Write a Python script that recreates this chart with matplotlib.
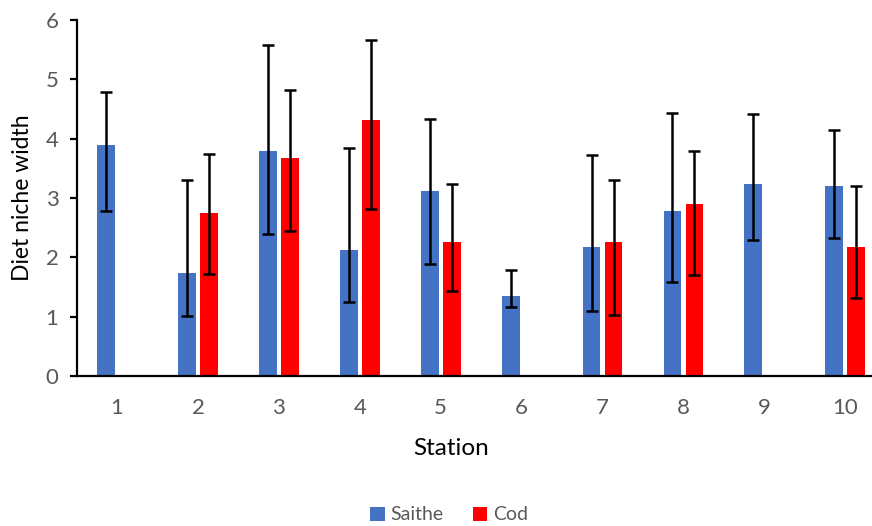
import numpy as np
import matplotlib.pyplot as plt

plt.rcParams['font.family'] = ['Lato', 'DejaVu Sans']

stations = ["1", "2", "3", "4", "5", "6", "7", "8", "9", "10"]

saithe = [3.89, 1.74, 3.80, 2.12, 3.12, 1.35, 2.18, 2.78, 3.24, 3.20]
saithe_low = [2.79, 1.01, 2.39, 1.25, 1.89, 1.16, 1.09, 1.58, 2.30, 2.33]
saithe_high = [4.78, 3.30, 5.58, 3.84, 4.33, 1.79, 3.72, 4.44, 4.42, 4.14]

cod = [np.nan, 2.74, 3.67, 4.31, 2.26, np.nan, 2.26, 2.90, np.nan, 2.18]
cod_low = [np.nan, 1.72, 2.45, 2.82, 1.43, np.nan, 1.03, 1.71, np.nan, 1.31]
cod_high = [np.nan, 3.75, 4.82, 5.67, 3.23, np.nan, 3.30, 3.80, np.nan, 3.20]

blue = "#4472C4"
red = "#FF0000"
grey = "#595959"

fig = plt.figure(figsize=(8.72, 5.26), dpi=100)
ax = fig.add_axes([0.0878, 0.285, 0.928, 0.677])

x = np.arange(1, len(stations) + 1)
w = 0.22
off = 0.136

s = np.array(saithe)
c = np.array(cod)
s_err = [s - np.array(saithe_low), np.array(saithe_high) - s]
c_err = [c - np.array(cod_low), np.array(cod_high) - c]

ax.bar(x - off, s, width=w, color=blue, label="Saithe", zorder=2)
ax.bar(x + off, c, width=w, color=red, label="Cod", zorder=2)

err_style = dict(fmt="none", ecolor="black", elinewidth=1.8, capsize=4.5,
                 capthick=1.8, zorder=3)
ax.errorbar(x - off, s, yerr=s_err, **err_style)
ax.errorbar(x + off, c, yerr=c_err, **err_style)

ax.set_xlim(0.5, 10.5)
ax.set_ylim(0, 6)
ax.set_xticks(x)
ax.set_xticklabels(stations)
ax.set_yticks(range(0, 7))

for side in ("top", "right"):
    ax.spines[side].set_visible(False)
for side in ("left", "bottom"):
    ax.spines[side].set_linewidth(1.6)
    ax.spines[side].set_color("black")

ax.tick_params(axis="x", length=0, pad=16, labelsize=16, labelcolor=grey)
ax.tick_params(axis="y", length=5, width=1.6, pad=8, labelsize=16,
               labelcolor=grey)

ax.set_xlabel("Station", fontsize=17.5)
ax.xaxis.set_label_coords(0.463, -0.175)
ax.set_ylabel("Diet niche width", fontsize=16.5)
ax.yaxis.set_label_coords(-0.054, 0.5)

leg = fig.legend(loc="center", bbox_to_anchor=(0.515, 0.021), ncol=2,
                 frameon=False, fontsize=14, handlelength=0.75,
                 handleheight=0.75, handletextpad=0.3, columnspacing=1.5)
for t in leg.get_texts():
    t.set_color(grey)

fig.savefig("out.png", dpi=100)
